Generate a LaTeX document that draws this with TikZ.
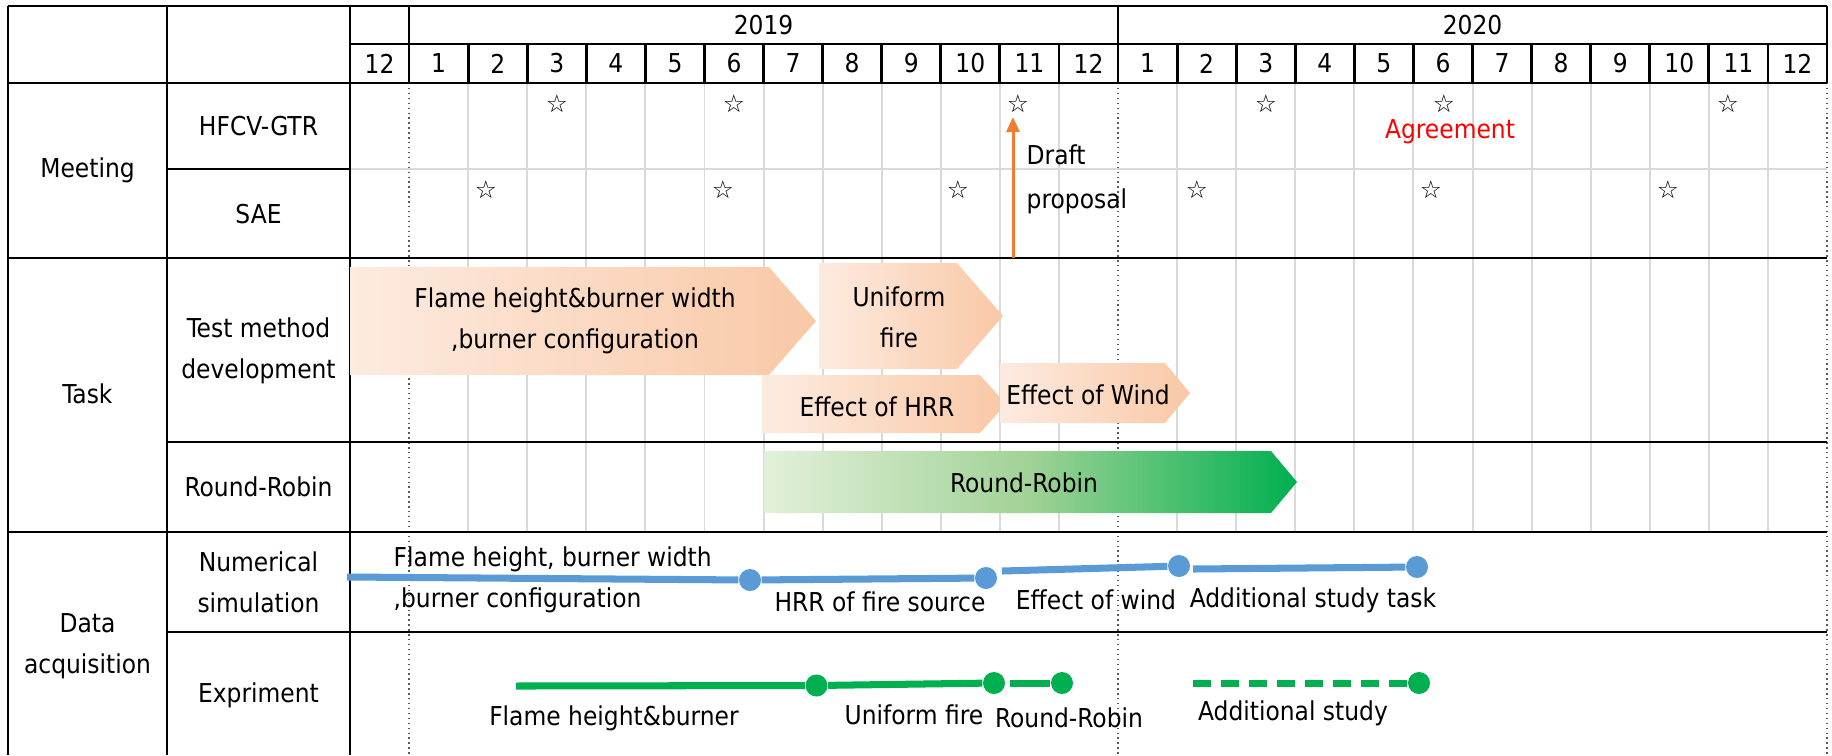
\documentclass[tikz,border=0pt]{standalone}
\usepackage{fontspec}
\setmainfont{DejaVu Sans Condensed}
\newfontfamily\starfont{DejaVu Sans}
\usepackage{tikz}
\usetikzlibrary{calc}
\usetikzlibrary{arrows.meta}
\usetikzlibrary{positioning}
\definecolor{gridgray}{RGB}{217, 217, 217}
\definecolor{peachlight}{RGB}{253, 235, 224}
\definecolor{peachdark}{RGB}{249, 200, 166}
\definecolor{leaflight}{RGB}{226, 240, 217}
\definecolor{leafmid}{RGB}{160, 210, 150}
\definecolor{leafdark}{RGB}{0, 176, 80}
\definecolor{simblue}{RGB}{91, 155, 213}
\definecolor{expgreen}{RGB}{0, 176, 80}
\definecolor{draftorange}{RGB}{237, 125, 49}

\begin{document}
\begin{tikzpicture}[
        font=\fontsize{7.4}{11.7}\selectfont,
        rule/.style={line width=0.8pt},
        lightrule/.style={gridgray, line width=0.55pt},
        yearsep/.style={black!65, line width=0.4pt, densely dotted},
        lbl/.style={inner sep=0pt, align=center},
        meetstar/.style={inner sep=0pt, font=\starfont\fontsize{7}{8}\selectfont},
        bdot/.style={circle, fill=simblue, minimum size=0.22cm, inner sep=0pt},
        gdot/.style={circle, fill=expgreen, minimum size=0.22cm, inner sep=0pt},
        bline/.style={simblue, line width=2pt},
        gline/.style={expgreen, line width=2pt}]
            \useasboundingbox (0.00, 0.00) rectangle (18.32,-7.55);
            \def\mw{0.5908}
            \foreach \k in {2,...,12,14,15,...,24}
                \draw[lightrule] ({3.50+\mw*\k},-0.83) -- ({3.50+\mw*\k},-5.32);
            \draw[lightrule] (3.50,-1.69) -- (18.27,-1.69);
            \foreach \k in {1,13,25}
                \draw[yearsep] ({3.50+\mw*\k},-0.83) -- ({3.50+\mw*\k},-7.55);
            \draw[rule] (0.08,-0.06) -- (18.27,-0.06);
            \draw[rule] (3.50,-0.44) -- (18.27,-0.44);
            \draw[rule] (0.08,-0.83) -- (18.27,-0.83);
            \draw[rule] (1.67,-1.69) -- (3.50,-1.69);
            \draw[rule] (0.08,-2.58) -- (18.27,-2.58);
            \draw[rule] (1.67,-4.42) -- (18.27,-4.42);
            \draw[rule] (0.08,-5.32) -- (18.27,-5.32);
            \draw[rule] (1.67,-6.32) -- (18.27,-6.32);
            \foreach \x in {0.08,1.67,3.50}
                \draw[rule] (\x,-0.06) -- (\x,-7.55);
            \foreach \k in {2,...,12,14,15,...,24}
                \draw[rule] ({3.50+\mw*\k},-0.44) -- ({3.50+\mw*\k},-0.83);
            \foreach \k in {1,13,25}
                \draw[rule] ({3.50+\mw*\k},-0.06) -- ({3.50+\mw*\k},-0.83);
            \node[lbl] (y2019) at ({3.50+\mw*7},-0.25) {2019};
            \node[lbl] (y2020) at ({3.50+\mw*19},-0.25) {2020};
            \node[lbl] (m18-12) at ({3.50+\mw*0.5},-0.635) {12};
            \foreach \k in {1,...,12} {
                \node[lbl] (m19-\k) at ({3.50+\mw*(\k+0.5)},-0.635) {\k};
                \node[lbl] (m20-\k) at ({3.50+\mw*(\k+12.5)},-0.635) {\k};
            }
            \node[lbl] (meet) at (0.875,-1.70) {Meeting};
            \node[lbl] (gtr)  at (2.585,-1.26) {HFCV-GTR};
            \node[lbl] (sae)  at (2.585,-2.14) {SAE};
            \node[lbl] (task) at (0.875,-3.94) {Task};
            \node[lbl] (tmd)  at (2.585,-3.51) {Test method\\development};
            \node[lbl] (rrl)  at (2.585,-4.87) {Round-Robin};
            \node[lbl] (daq)  at (0.875,-6.46) {Data\\acquisition};
            \node[lbl] (nsim) at (2.585,-5.82) {Numerical\\simulation};
            \node[lbl] (expr) at (2.585,-6.95) {Expriment};
            \foreach \x/\n in {5.57/1,7.34/2,10.18/3,12.66/4,14.44/5,17.28/6}
                \node[meetstar] (gtrstar\n) at (\x,-1.04) {☆};
            \foreach \x/\n in {4.86/1,7.23/2,9.58/3,11.97/4,14.31/5,16.68/6}
                \node[meetstar] (saestar\n) at (\x,-1.90) {☆};
            \node[lbl, text=red] (agree) at (14.50,-1.32) {Agreement};
            \coordinate (draftfoot) at (10.13,-2.58);
            \coordinate (drafthead) at (10.13,-1.17);
            \draw[draftorange, line width=0.85pt, -{Triangle[width=0.13cm,length=0.15cm]}] (draftfoot) -- (drafthead);
            \node[lbl, anchor=west, align=left] (draft) at (10.26,-1.79) {Draft\\[0.8pt]proposal};
            \shade[left color=peachlight, right color=peachdark] (3.50,-2.67) -- (7.69,-2.67) -- (8.16,-3.21) -- (7.69,-3.75) -- (3.50,-3.75) -- cycle;
            \shade[left color=peachlight, right color=peachdark] (8.19,-2.63) -- (9.57,-2.63) -- (10.03,-3.16) -- (9.57,-3.69) -- (8.19,-3.69) -- cycle;
            \shade[left color=peachlight, right color=peachdark] (7.62,-3.75) -- (9.80,-3.75) -- (10.06,-4.04) -- (9.80,-4.33) -- (7.62,-4.33) -- cycle;
            \shade[left color=peachlight, right color=peachdark] (10.00,-3.63) -- (11.65,-3.63) -- (11.90,-3.93) -- (11.65,-4.23) -- (10.00,-4.23) -- cycle;
            \shade[left color=leaflight, right color=leafdark, middle color=leafmid] (7.64,-4.51) -- (12.71,-4.51) -- (12.97,-4.82) -- (12.71,-5.13) -- (7.64,-5.13) -- cycle;
            \node[lbl] (flametask) at (5.75,-3.21) {Flame height\&burner width\\,burner configuration};
            \node[lbl] (uniftask)  at (8.99,-3.17) {Uniform\\fire};
            \node[lbl] (hrrtask)   at (8.77,-4.07) {Effect of HRR};
            \node[lbl] (windtask)  at (10.88,-3.95) {Effect of Wind};
            \node[lbl] (rrtask)    at (10.24,-4.83) {Round-Robin};
            \coordinate (ns0) at (3.47,-5.77);
            \node[bdot] (ns1) at (7.50,-5.80) {};
            \node[bdot] (ns2) at (9.86,-5.78) {};
            \coordinate (ns3a) at (10.02,-5.71);
            \node[bdot] (ns3) at (11.79,-5.66) {};
            \coordinate (ns4a) at (11.93,-5.69);
            \node[bdot] (ns4) at (14.17,-5.67) {};
            \draw[bline] (ns0) -- (ns1);
            \draw[bline] (ns1) -- (ns2);
            \draw[bline] (ns3a) -- (ns3);
            \draw[bline] (ns4a) -- (ns4);
            \coordinate (es0) at (5.16,-6.86);
            \node[gdot] (es1) at (8.165,-6.855) {};
            \node[gdot] (es2) at (9.94,-6.83) {};
            \coordinate (es3a) at (10.10,-6.83);
            \node[gdot] (es3) at (10.62,-6.83) {};
            \coordinate (es4a) at (11.93,-6.83);
            \node[gdot] (es4) at (14.19,-6.83) {};
            \draw[gline] (es0) -- (es1);
            \draw[gline] (es1) -- (es2);
            \draw[gline] (es3a) -- (es3);
            \draw[gline, dash pattern=on 0.18cm off 0.10cm] (es4a) -- (es4);
            \node[lbl, anchor=west, align=left] (flamesim) at (3.93,-5.80) {Flame height, burner width\\,burner configuration};
            \node[lbl] (hrrsim)   at (8.80,-6.02) {HRR of fire source};
            \node[lbl] (windsim)  at (10.96,-6.00) {Effect of wind};
            \node[lbl] (addsim)   at (13.13,-6.00) {Additional study task};
            \node[lbl] (flameexp) at (6.14,-7.18) {Flame height\&burner};
            \node[lbl] (unifexp)  at (9.14,-7.15) {Uniform fire};
            \node[lbl] (rrexp)    at (10.69,-7.18) {Round-Robin};
            \node[lbl] (addexp)   at (12.93,-7.13) {Additional study};
        \end{tikzpicture}
\end{document}
